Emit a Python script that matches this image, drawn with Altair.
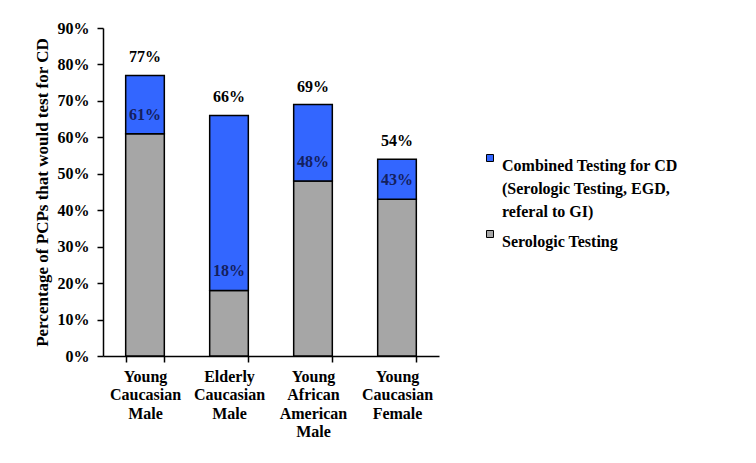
import altair as alt
import pandas as pd

categories = ["Young Caucasian Male", "Elderly Caucasian Male",
              "Young African American Male", "Young Caucasian Female"]
serologic = [61, 18, 48, 43]
combined_total = [77, 66, 69, 54]
series_names = ["Combined Testing for CD (Serologic Testing, EGD, referal to GI)",
                "Serologic Testing"]
y_ticks = [0, 10, 20, 30, 40, 50, 60, 70, 80, 90]

rows = []
for c, s, t in zip(categories, serologic, combined_total):
    rows.append({"cat": c, "series": series_names[1], "value": s, "order": 0})
    rows.append({"cat": c, "series": series_names[0], "value": t - s, "order": 1})
df = pd.DataFrame(rows)
lab = pd.DataFrame({"cat": categories, "sero": serologic, "total": combined_total})

FONT = "Liberation Serif"
YTITLE = "Percentage of PCPs that would test for CD"
yscale = alt.Scale(domain=[0, 90], nice=False)
xscale = alt.Scale(paddingInner=0.54, paddingOuter=0.27)

xaxis = alt.Axis(labelAngle=0, labelExpr="split(datum.label, ' ')",
                 labelFont=FONT, labelFontSize=16, labelFontWeight="bold",
                 labelColor="black", labelLineHeight=18.5, labelPadding=6,
                 tickBand="extent", tickSize=6, tickColor="black",
                 domainColor="black", domainWidth=1.5, tickWidth=1.5,
                 labelBaseline="top")
yaxis = alt.Axis(values=y_ticks, labelExpr="datum.value + '%'",
                 grid=False, labelFont=FONT, labelFontSize=16,
                 labelFontWeight="bold", labelColor="black",
                 labelOverlap=False,
                 titleFont=FONT, titleFontSize=17, titleFontWeight="bold",
                 titleColor="black", tickSize=6, tickColor="black",
                 domainColor="black", domainWidth=1.5, tickWidth=1.5,
                 labelPadding=8, titlePadding=6)


def X():
    return alt.X("cat:N", sort=categories, title=None, scale=xscale, axis=xaxis)


bars = alt.Chart(df).mark_bar(stroke="black", strokeWidth=1.5).encode(
    x=X(),
    y=alt.Y("value:Q", stack="zero", scale=yscale, title=YTITLE, axis=yaxis),
    color=alt.Color("series:N",
                    scale=alt.Scale(domain=series_names, range=["#3366FF", "#A6A6A6"]),
                    legend=alt.Legend(
                        title=None, orient="none", legendX=379, legendY=122,
                        labelFont=FONT, labelFontSize=16, labelFontWeight="bold",
                        labelColor="black", symbolType="square", symbolSize=49,
                        symbolStrokeColor="black", symbolStrokeWidth=1,
                        labelBaseline="top", rowPadding=6, labelOffset=4,
                        labelLimit=400,
                        labelExpr="datum.label == 'Serologic Testing' ? datum.label : ['Combined Testing for CD', '(Serologic Testing, EGD,', 'referal to GI)']")),
    order=alt.Order("order:Q"),
)

total_text = alt.Chart(lab).transform_calculate(t="datum.total + '%'").mark_text(
    font=FONT, fontSize=16, fontWeight="bold", color="black",
    baseline="alphabetic", dy=-13).encode(
    x=X(),
    y=alt.Y("total:Q", scale=yscale, title=YTITLE, axis=yaxis),
    text="t:N",
)

sero_text = alt.Chart(lab).transform_calculate(t="datum.sero + '%'").mark_text(
    font=FONT, fontSize=16, fontWeight="bold", color="#14205E",
    baseline="alphabetic", dy=-14).encode(
    x=X(),
    y=alt.Y("sero:Q", scale=yscale, title=YTITLE, axis=yaxis),
    text="t:N",
)

chart = alt.layer(bars, total_text, sero_text).properties(
    width=336, height=328,
    autosize=alt.AutoSizeParams(type="none"),
    padding={"left": 95, "top": 20, "right": 309, "bottom": 99},
).configure(
    background="white",
    style={"guide-label": {"lineHeight": 23}},
    view={"strokeWidth": 0, "stroke": "transparent"},
)

chart.save("out.html", embed_options={"renderer": "svg", "actions": False})
